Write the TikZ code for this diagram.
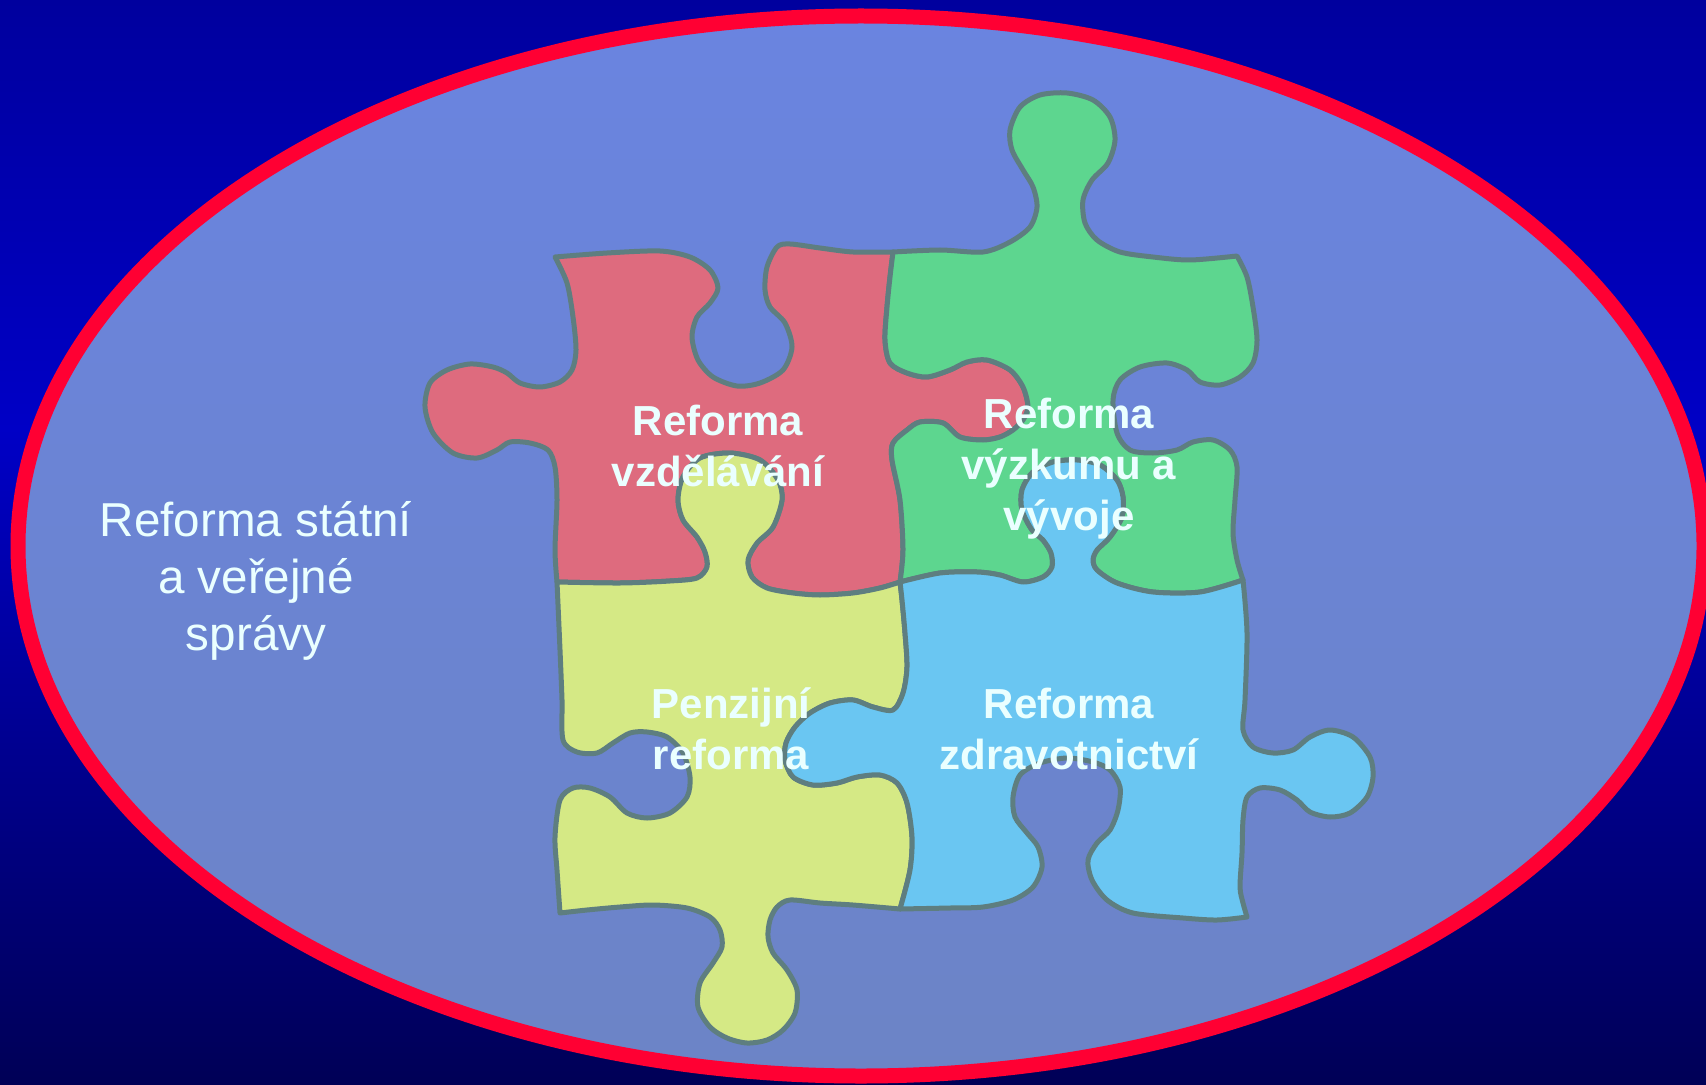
\documentclass[tikz,border=0pt]{standalone}
\usepackage{fontspec}
\setmainfont{Liberation Sans}
\usepackage{tikz}
\usetikzlibrary{shapes,backgrounds}

\definecolor{bgtop}{HTML}{00009E}
\definecolor{bgmid}{HTML}{0000C6}
\definecolor{bgbot}{HTML}{000056}
\definecolor{ovaltop}{HTML}{6A84E0}
\definecolor{ovalbot}{HTML}{6C84C6}
\definecolor{rimred}{HTML}{FF0033}
\definecolor{edgegray}{HTML}{5E7E80}
\definecolor{pred}{HTML}{DE6B7E}
\definecolor{pgreen}{HTML}{5DD68F}
\definecolor{pyellow}{HTML}{D5E985}
\definecolor{pblue}{HTML}{6AC6F2}
\definecolor{txtwhite}{HTML}{EAFFFF}

\tikzset{
  piece/.style={draw=edgegray,line width=2.5pt,line join=round},
  txt/.style={text=txtwhite,align=center,inner sep=0pt,
    font=\fontsize{21pt}{25.5pt}\selectfont\bfseries},
  outer/.style={text=txtwhite,align=center,inner sep=0pt,
    font=\fontsize{23.8pt}{28.5pt}\selectfont}
}

\begin{document}
\begin{tikzpicture}[x=0.5pt,y=-0.5pt]
        \useasboundingbox (0,0) rectangle (1706,1085);
        \shade[top color=bgtop,bottom color=bgmid] (0,0) rectangle (1706,430);
        \shade[top color=bgmid,bottom color=bgbot] (0,429) rectangle (1706,1085);
        \coordinate (o) at (861,546);
        \shade[top color=ovaltop,bottom color=ovalbot] (o) ellipse [x radius=421.5pt,y radius=265pt];
        \draw[line width=7.5pt,rimred] (o) ellipse [x radius=421.5pt,y radius=265pt];
        \filldraw[piece,fill=pred]
            plot[smooth] coordinates {(555,257) (607,253) (660,251) (690,257) (710,270) (718,288) (710,303) (697,317) (692,337) (698,360) (713,377) (737,386) (760,383) (783,370) (792,347) (785,323) (770,307) (765,290) (767,267) (777,247) (790,244) (820,248) (853,252) (893,252)}
            -- plot[smooth] coordinates {(893,252) (890,277) (887,307) (885,340) (890,363) (907,373) (927,377) (950,370) (967,362) (987,360) (1010,370) (1023,387) (1028,407) (1023,420) (1013,430) (1000,437) (983,440) (960,437) (943,423) (920,422) (907,430) (893,443) (892,460) (900,500) (903,550) (900,582)}
            -- plot[smooth] coordinates {(900,582) (880,588) (853,593) (820,595) (793,593) (767,588) (752,577) (748,560) (757,543) (773,527) (782,500) (778,480) (760,460) (730,453) (700,458) (683,477) (678,500) (683,520) (697,537) (705,552) (707,567) (697,578) (670,581) (620,583) (557,582)}
            -- plot[smooth] coordinates {(557,582) (555,550) (557,500) (555,467) (548,450) (530,443) (510,442) (497,450) (477,458) (453,453) (433,433) (425,407) (430,383) (447,370) (470,364) (493,367) (507,373) (520,383) (540,387) (560,382) (572,370) (576,350) (573,317) (567,283) (555,257)}
            -- cycle;
        \filldraw[piece,fill=pgreen]
            plot[smooth] coordinates {(893,252) (940,250) (983,252) (1010,242) (1030,227) (1037,207) (1033,187) (1023,170) (1012,150) (1010,130) (1020,107) (1040,95) (1067,93) (1093,100) (1110,117) (1115,140) (1108,163) (1092,180) (1083,200) (1085,223) (1097,240) (1120,252) (1153,257) (1190,260) (1237,256)}
            -- plot[smooth] coordinates {(1237,256) (1247,277) (1253,307) (1257,340) (1253,363) (1240,377) (1220,385) (1200,382) (1187,370) (1167,363) (1140,367) (1120,380) (1113,400) (1117,433) (1130,450) (1153,453) (1177,450) (1193,442) (1213,440) (1230,450) (1237,467) (1235,500) (1233,533) (1237,560) (1243,580)}
            -- plot[smooth] coordinates {(1243,580) (1200,592) (1153,592) (1117,583) (1097,570) (1093,560) (1097,550) (1110,537) (1122,517) (1123,497) (1117,480) (1100,465) (1077,460) (1053,462) (1033,472) (1022,490) (1022,510) (1032,530) (1043,540) (1051,553) (1052,567) (1043,577) (1023,582) (1000,575) (977,572) (940,573) (900,582)}
            -- plot[smooth] coordinates {(900,582) (903,550) (900,500) (892,460) (893,443) (907,430) (920,422) (943,423) (960,437) (983,440) (1000,437) (1013,430) (1023,420) (1028,407) (1023,387) (1010,370) (987,360) (967,362) (950,370) (927,377) (907,373) (890,363) (885,340) (887,307) (890,277) (893,252)}
            -- cycle;
        \filldraw[piece,fill=pyellow]
            plot[smooth] coordinates {(557,582) (620,583) (670,581) (697,578) (707,567) (705,552) (697,537) (683,520) (678,500) (683,477) (700,458) (730,453) (760,460) (778,480) (782,500) (773,527) (757,543) (748,560) (752,577) (767,588) (793,593) (820,595) (853,593) (880,588) (900,582)}
            -- plot[smooth] coordinates {(900,582) (902,600) (905,633) (907,667) (903,693) (893,710) (873,707) (853,700) (830,703) (810,713) (795,727) (786,743) (785,760) (793,777) (813,785) (837,783) (857,777) (880,775) (897,783) (907,803) (912,837) (910,870) (900,909)}
            -- plot[smooth] coordinates {(900,909) (853,905) (820,903) (790,900) (777,907) (770,920) (768,937) (773,953) (787,970) (797,990) (795,1013) (783,1030) (767,1040) (747,1043) (727,1038) (710,1027) (698,1007) (700,983) (713,963) (722,947) (720,930) (710,917) (687,908) (653,905) (620,907) (587,910) (560,913)}
            -- plot[smooth] coordinates {(560,913) (557,870) (555,837) (560,800) (573,788) (590,788) (610,797) (627,813) (647,818) (670,813) (687,797) (690,777) (683,753) (667,737) (647,732) (630,733) (613,743) (597,753) (577,752) (563,740) (562,700) (560,650) (557,582)}
            -- cycle;
        \filldraw[piece,fill=pblue]
            plot[smooth] coordinates {(900,582) (940,573) (977,572) (1000,575) (1023,582) (1043,577) (1052,567) (1051,553) (1043,540) (1032,530) (1022,510) (1022,490) (1033,472) (1053,462) (1077,460) (1100,465) (1117,480) (1123,497) (1122,517) (1110,537) (1097,550) (1093,560) (1097,570) (1117,583) (1153,592) (1200,592) (1243,580)}
            -- plot[smooth] coordinates {(1243,580) (1247,633) (1245,700) (1243,730) (1253,747) (1273,753) (1293,750) (1310,737) (1330,730) (1353,737) (1370,757) (1373,777) (1367,797) (1350,813) (1330,817) (1310,812) (1297,800) (1280,790) (1260,788) (1247,797) (1243,820) (1242,853) (1240,887) (1243,903) (1247,917)}
            -- plot[smooth] coordinates {(1247,917) (1217,920) (1183,918) (1133,913) (1107,900) (1092,880) (1088,860) (1097,843) (1110,830) (1118,810) (1120,787) (1110,770) (1093,762) (1067,758) (1040,763) (1020,775) (1013,797) (1015,817) (1027,833) (1038,847) (1042,867) (1033,887) (1013,900) (983,907) (950,908) (900,909)}
            -- plot[smooth] coordinates {(900,909) (910,870) (912,837) (907,803) (897,783) (880,775) (857,777) (837,783) (813,785) (793,777) (785,760) (786,743) (795,727) (810,713) (830,703) (853,700) (873,707) (893,710) (903,693) (907,667) (905,633) (902,600) (900,582)}
            -- cycle;
        \node[txt] (edu) at (718,446) {Reforma\\vzdělávání};
        \node[txt] (rnd) at (1069,469) {Reforma\\výzkumu a\\vývoje};
        \node[txt] (pen) at (731,729) {Penzijní\\reforma};
        \node[txt] (hea) at (1069,729) {Reforma\\zdravotnictví};
        \node[outer] (pub) at (256,581) {Reforma státní\\a veřejné\\správy};
    \end{tikzpicture}
\end{document}
